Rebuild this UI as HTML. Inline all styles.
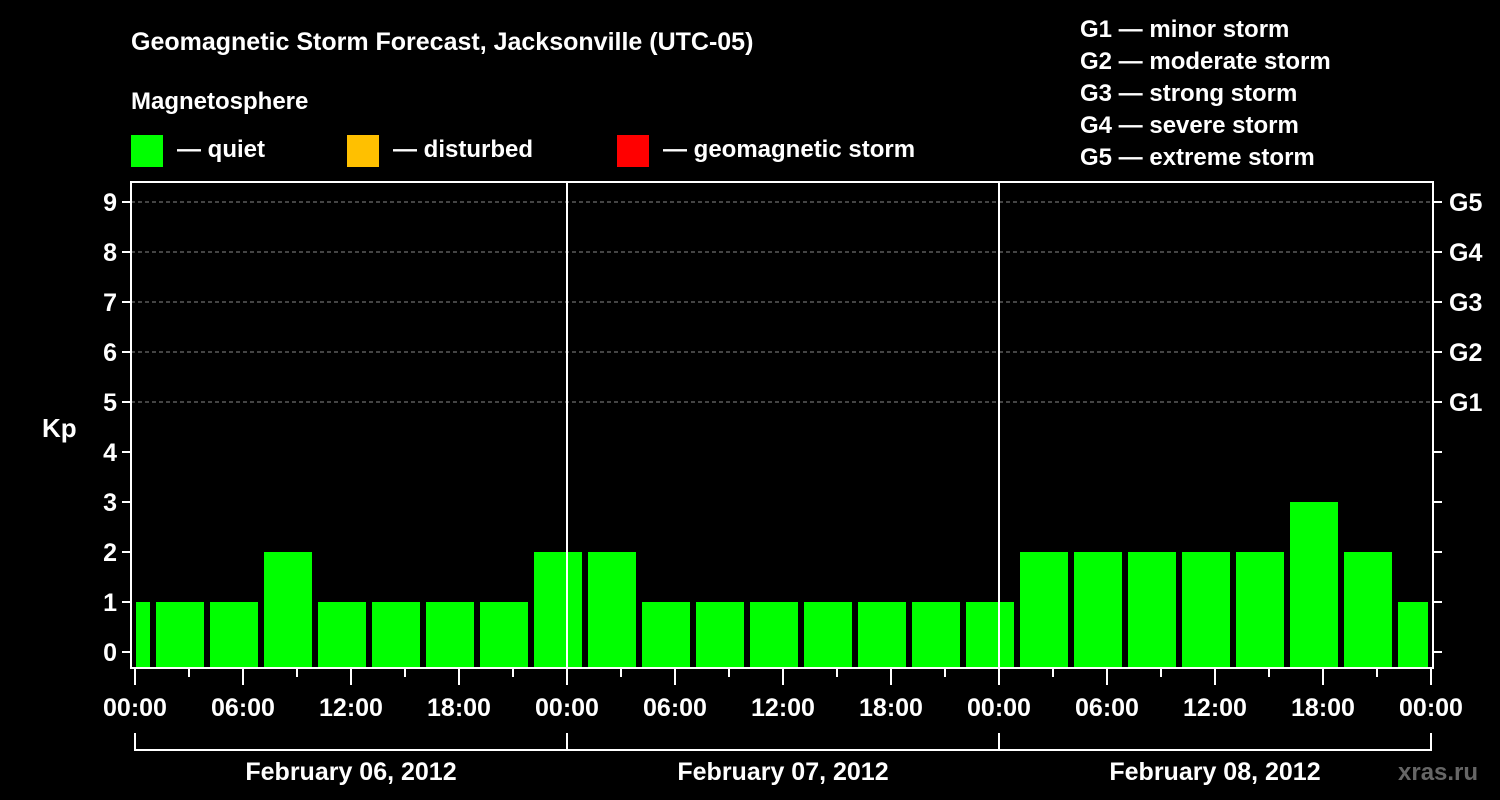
<!DOCTYPE html>
<html><head><meta charset="utf-8"><style>
body{margin:0;background:#000;}
svg{display:block;font-family:"Liberation Sans",sans-serif;font-weight:bold;}
</style></head><body>
<svg id="chart" width="1500" height="800" viewBox="0 0 1500 800">
<rect width="1500" height="800" fill="#000"/>
<text x="131" y="50" fill="#fff" font-size="25">Geomagnetic Storm Forecast, Jacksonville (UTC-05)</text>
<text x="131" y="109" fill="#fff" font-size="24">Magnetosphere</text>
<g>
<rect x="131" y="135" width="32" height="32" fill="#00ff00"/>
<text x="177" y="157" fill="#fff" font-size="24">— quiet</text>
<rect x="347" y="135" width="32" height="32" fill="#ffc000"/>
<text x="393" y="157" fill="#fff" font-size="24">— disturbed</text>
<rect x="617" y="135" width="32" height="32" fill="#ff0000"/>
<text x="663" y="157" fill="#fff" font-size="24">— geomagnetic storm</text>
</g>
<g fill="#fff" font-size="24">
<text x="1080" y="37">G1 — minor storm</text>
<text x="1080" y="69">G2 — moderate storm</text>
<text x="1080" y="101">G3 — strong storm</text>
<text x="1080" y="133">G4 — severe storm</text>
<text x="1080" y="165">G5 — extreme storm</text>
</g>
<text x="42" y="437" fill="#fff" font-size="26">Kp</text>
<text x="1398" y="780" fill="#666" font-size="24">xras.ru</text>
<g id="plot"></g>
</svg>
<script>
const kpValues=[1,1,1,2,1,1,1,1,2,2,1,1,1,1,1,1,1,2,2,2,2,2,3,2,1];
const barStartHours=[-2,1,4,7,10,13,16,19,22,25,28,31,34,37,40,43,46,49,52,55,58,61,64,67,70];
const yTicks=[0,1,2,3,4,5,6,7,8,9];
const gLabels=["G1","G2","G3","G4","G5"];
const gLevels=[5,6,7,8,9];
const xTickLabels=["00:00","06:00","12:00","18:00","00:00","06:00","12:00","18:00","00:00","06:00","12:00","18:00","00:00"];
const dayLabels=["February 06, 2012","February 07, 2012","February 08, 2012"];
const NS="http://www.w3.org/2000/svg";
const X0=135,PXH=18,Y0=652,PXK=50,L=131,R=1433,T=182,B=668;
const xs=h=>X0+h*PXH, ys=k=>Y0-k*PXK;
const g=document.getElementById('plot');
function mk(t,a,txt){const e=document.createElementNS(NS,t);for(const k in a)e.setAttribute(k,a[k]);if(txt!=null)e.textContent=txt;g.appendChild(e);return e;}
// grid
yTicks.forEach(k=>{
 if(k>=5){const e=mk('line',{x1:L,x2:R,y1:ys(k),y2:ys(k),stroke:'#888','stroke-dasharray':'4,3','stroke-width':1});
 
 }
 const t=mk('line',{x1:L-9,x2:L,y1:ys(k),y2:ys(k),stroke:'#fff','stroke-width':2});
 
 
 const t2=mk('line',{x1:R,x2:R+9,y1:ys(k),y2:ys(k),stroke:'#fff','stroke-width':2});
 
 
 const l=mk('text',{x:L-14,y:ys(k)+9,fill:'#fff','font-size':25,'text-anchor':'end'},String(k));
 
 
});
gLabels.forEach((s,i)=>{
 const l=mk('text',{x:R+16,y:ys(gLevels[i])+9,fill:'#fff','font-size':25},s);
 
 
});
// bars
kpValues.forEach((v,i)=>{
 let x1=xs(barStartHours[i])+3,x2=xs(barStartHours[i]+3)-3;
 x1=Math.max(x1,X0+1);x2=Math.min(x2,xs(72)-3);
 const b=mk('rect',{x:x1,y:ys(v),width:x2-x1,height:B-ys(v),fill:'#00ff00'});
 
 
});
// day separators
[24,48].forEach(h=>{const e=mk('line',{x1:xs(h),x2:xs(h),y1:T,y2:B,stroke:'#fff','stroke-width':2});
 
 });
// frame
const f=mk('rect',{x:L,y:T,width:R-L,height:B-T,fill:'none',stroke:'#fff','stroke-width':2});


// x ticks
for(let h=0;h<=72;h+=3){const long=h%6===0;
 const e=mk('line',{x1:xs(h),x2:xs(h),y1:B,y2:B+(long?17:9),stroke:'#fff','stroke-width':2});
 
 }
xTickLabels.forEach((s,i)=>{
 const l=mk('text',{x:xs(i*6),y:716,fill:'#fff','font-size':25,'text-anchor':'middle'},s);
 
 
});
// day bracket
const br=mk('path',{d:`M${xs(0)} 733V750H${xs(72)}V733M${xs(24)} 733V750M${xs(48)} 733V750`,fill:'none',stroke:'#fff','stroke-width':2});


dayLabels.forEach((s,i)=>{
 const l=mk('text',{x:xs(i*24+12),y:780,fill:'#fff','font-size':25,'text-anchor':'middle'},s);
 
 
});
</script>
</body></html>
